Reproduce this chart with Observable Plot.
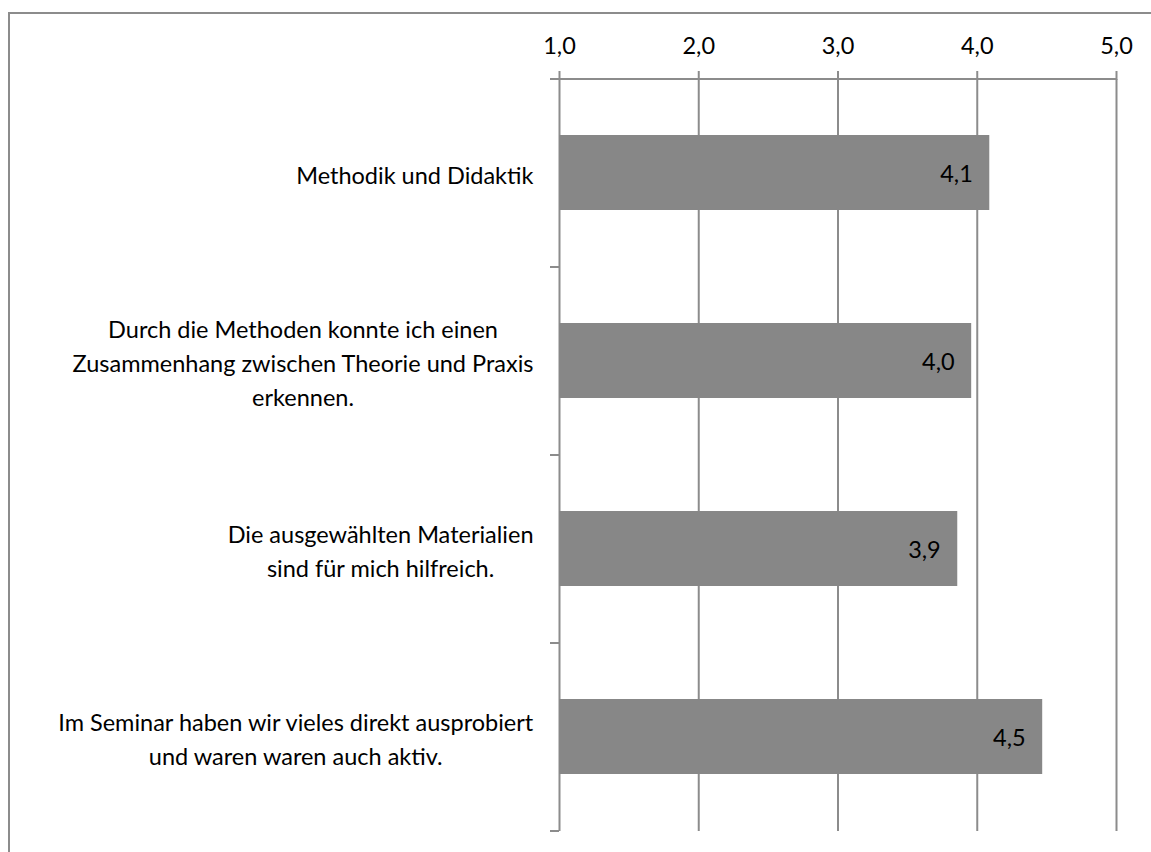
<!DOCTYPE html>
<html><head><meta charset="utf-8">
<script src="https://cdn.jsdelivr.net/npm/d3@7"></script>
<script src="https://cdn.jsdelivr.net/npm/@observablehq/plot@0.6"></script>
<style>
html,body{margin:0;padding:0;background:#fff;overflow:hidden;}
#wrap{position:relative;width:1151px;height:852px;overflow:hidden;}
#border{position:absolute;left:8px;top:12px;width:1200px;height:900px;border-top:2px solid #8c8c8c;border-left:2px solid #8c8c8c;}
#chart{position:absolute;left:0;top:0;}
</style></head><body>
<div id="wrap"><div id="border"></div><div id="chart"></div></div>
<script>
const categories = [
  "Methodik und Didaktik",
  "Durch die Methoden konnte ich einen\nZusammenhang zwischen Theorie und Praxis\nerkennen.",
  "Die ausgewählten Materialien\nsind für mich hilfreich.",
  "Im Seminar haben wir vieles direkt ausprobiert\nund waren waren auch aktiv."
];
const values = [4.09, 3.96, 3.86, 4.47];
const xTicks = [1, 2, 3, 4, 5];

const W = 1151, H = 852, mt = 79, mb = 21, ml = 559, mr = 35;
const FONT = "Lato, 'Open Sans', sans-serif";
const FS = 23.5;
const fmt = v => d3.format(".1f")(v).replace(".", ",");
const data = categories.map((c, i) => ({c, v: values[i]}));
const step = (H - mt - mb) / categories.length;
const grey = "#8c8c8c";

const plot = Plot.plot({
  width: W, height: H,
  marginTop: mt, marginBottom: mb, marginLeft: ml, marginRight: mr,
  style: {fontFamily: FONT, fontSize: FS + "px", color: "#000", background: "transparent", overflow: "visible"},
  x: {domain: [xTicks[0], xTicks[xTicks.length - 1]]},
  y: {domain: categories, paddingInner: 0.6, paddingOuter: 0.3},
  marks: [
    Plot.gridX(xTicks, {stroke: grey, strokeOpacity: 1, strokeWidth: 2}),
    Plot.ruleY([categories[0]], {x1: xTicks[0], x2: xTicks[xTicks.length - 1], dy: -step / 2, stroke: grey, strokeWidth: 2}),
    Plot.axisX({anchor: "top", ticks: xTicks, tickFormat: fmt, tickSize: 9, tickPadding: 17, stroke: grey, strokeWidth: 2, fontSize: FS, label: null}),
    Plot.axisY({anchor: "left", tickSize: 9, tickFormat: () => "", dy: step / 2, stroke: grey, strokeWidth: 2, label: null}),
    Plot.axisY({anchor: "left", ticks: [categories[0]], tickSize: 9, tickFormat: () => "", dy: -step / 2, stroke: grey, strokeWidth: 2, label: null}),
    Plot.barX(data, {x1: () => xTicks[0], x2: "v", y: "c", fill: "#878787"}),
    Plot.text(data, {x: "v", y: "c", text: d => fmt(d.v), textAnchor: "end", dx: -17, dy: 1, fill: "#000", fontSize: FS}),
    Plot.text(categories, {y: d => d, text: d => d, frameAnchor: "left", textAnchor: "end", dx: -26, lineHeight: 1.46, fill: "#000", fontSize: FS, className: "catlabels"})
  ]
});
document.getElementById("chart").appendChild(plot);

// center the lines of each category label within its own right-aligned block
d3.select(plot).selectAll("g.catlabels text").each(function() {
  const w = this.getBBox().width;
  this.setAttribute("text-anchor", "middle");
  const spans = this.querySelectorAll("tspan");
  if (spans.length) spans.forEach(s => s.setAttribute("x", -w / 2));
  else this.setAttribute("x", -w / 2);
});
</script>
</body></html>
